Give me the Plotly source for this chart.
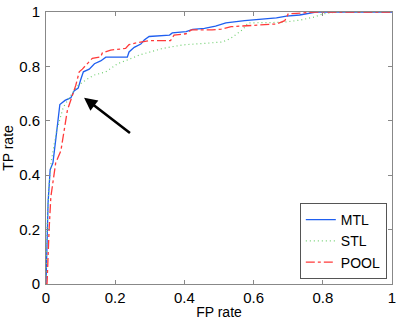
import plotly.graph_objects as go

# ROC curves
mtl_fp = [0, 0.003, 0.006, 0.012, 0.02, 0.03, 0.04, 0.055, 0.072, 0.081, 0.093, 0.10, 0.108,
          0.125, 0.14, 0.158, 0.173, 0.235, 0.24, 0.255, 0.274, 0.284, 0.298, 0.357, 0.365,
          0.405, 0.424, 0.458, 0.49, 0.52, 0.574, 0.666, 0.695, 0.733, 0.777, 0.78, 1.0]
mtl_tp = [0, 0.2, 0.3, 0.42, 0.445, 0.55, 0.66, 0.675, 0.685, 0.71, 0.72, 0.75, 0.78,
          0.79, 0.81, 0.82, 0.834, 0.834, 0.853, 0.87, 0.882, 0.897, 0.91, 0.915, 0.923,
          0.928, 0.936, 0.94, 0.948, 0.96, 0.968, 0.978, 0.985, 0.989, 0.997, 1.0, 1.0]

stl_fp = [0, 0.003, 0.008, 0.015, 0.03, 0.05, 0.07, 0.081, 0.09, 0.115, 0.139, 0.173, 0.207,
          0.24, 0.27, 0.337, 0.395, 0.463, 0.511, 0.535, 0.55, 0.569, 0.584, 0.617, 0.685,
          0.733, 0.777, 0.8, 0.835, 0.84, 1.0]
stl_tp = [0, 0.2, 0.35, 0.45, 0.56, 0.65, 0.69, 0.713, 0.727, 0.75, 0.768, 0.78, 0.81,
          0.826, 0.842, 0.866, 0.879, 0.885, 0.89, 0.904, 0.919, 0.936, 0.96, 0.96, 0.962,
          0.97, 0.982, 0.993, 0.997, 1.0, 1.0]

pool_fp = [0, 0.003, 0.009, 0.014, 0.028, 0.043, 0.062, 0.076, 0.086, 0.096, 0.105, 0.134,
           0.158, 0.163, 0.187, 0.23, 0.24, 0.255, 0.3, 0.36, 0.37, 0.405, 0.42, 0.48, 0.506,
           0.535, 0.56, 0.588, 0.666, 0.69, 0.7, 0.724, 0.748, 0.78, 1.0]
pool_tp = [0, 0.0, 0.2, 0.32, 0.445, 0.49, 0.64, 0.69, 0.73, 0.78, 0.79, 0.83,
           0.835, 0.85, 0.86, 0.866, 0.88, 0.885, 0.895, 0.895, 0.915, 0.92, 0.934, 0.934, 0.937,
           0.946, 0.948, 0.952, 0.956, 0.968, 0.993, 0.995, 0.997, 1.0, 1.0]

ticks = [0, 0.2, 0.4, 0.6, 0.8, 1]
tick_text = ['0', '0.2', '0.4', '0.6', '0.8', '1']

FONT = 'Liberation Sans, Arial, sans-serif'

fig = go.Figure()
fig.add_trace(go.Scatter(x=mtl_fp, y=mtl_tp, mode='lines', name='MTL',
                         line=dict(color='#1f5ff0', width=1.3)))
fig.add_trace(go.Scatter(x=stl_fp, y=stl_tp, mode='lines', name='STL',
                         line=dict(color='#6fcf6f', width=1.2, dash='1px,3px')))
fig.add_trace(go.Scatter(x=pool_fp, y=pool_tp, mode='lines', name='POOL',
                         line=dict(color='#ff3a3a', width=1.3, dash='dashdot')))

# arrow pointing at the crossover
fig.add_annotation(x=0.11, y=0.685, ax=0.247, ay=0.551, xref='x', yref='y',
                   axref='x', ayref='y', showarrow=True, arrowhead=2,
                   arrowsize=1.0, arrowwidth=2.6, arrowcolor='black', text='')

axis_common = dict(range=[0, 1], tickvals=ticks, ticktext=tick_text,
                   ticks='inside', ticklen=4, tickcolor='#888', automargin=False,
                   showline=True, linecolor='#888', linewidth=1, mirror='ticks',
                   showgrid=False, zeroline=False,
                   tickfont=dict(family=FONT, size=15, color='black'))
fig.update_xaxes(**axis_common, ticklabelstandoff=0,
                 title=dict(text='FP rate', standoff=3,
                            font=dict(family=FONT, size=14, color='black')))
fig.update_yaxes(**axis_common, ticklabelstandoff=2,
                 title=dict(text='TP rate', standoff=2,
                            font=dict(family=FONT, size=14, color='black')))

fig.update_layout(
    width=399, height=320,
    margin=dict(l=46, r=7, t=12, b=36),
    plot_bgcolor='white', paper_bgcolor='white',
    font=dict(family=FONT, size=15, color='black'),
    legend=dict(x=0.985, y=0.018, xanchor='right', yanchor='bottom',
                bordercolor='#555', borderwidth=1, bgcolor='white',
                font=dict(family=FONT, size=14, color='black'),
                tracegroupgap=0, itemwidth=30),
    showlegend=True,
)

# the page body has a default 8px margin; drop it so the figure sits at the corner
fig.write_html('out.html', config={'displayModeBar': False},
               post_script="document.body.style.margin='0';")
